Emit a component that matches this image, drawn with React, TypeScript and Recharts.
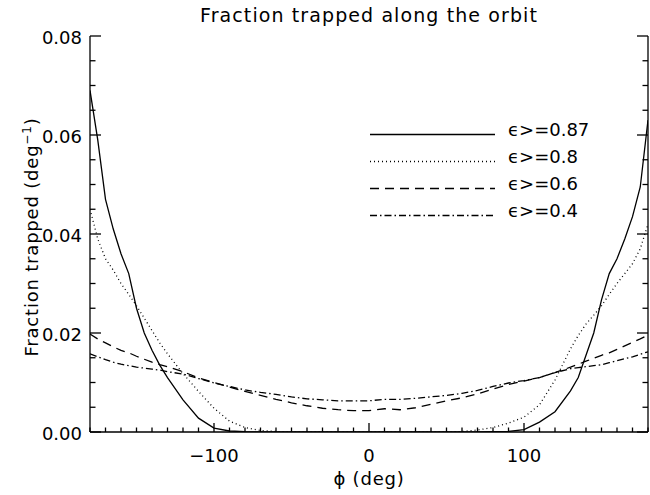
import React from 'react';
import { LineChart, Line, XAxis, YAxis, Legend } from 'recharts';

const phi = [-180, -175, -170, -165, -160, -155, -150, -145, -140, -135, -130,
  -120, -110, -100, -90, -80, -70, -60, -50, -40, -30, -20, -10, 0, 10, 20, 30, 40, 50, 60, 70, 80, 90, 100, 110, 120,
  130, 135, 140, 145, 150, 155, 160, 165, 170, 175, 180];

const eps087 = [0.069, 0.059, 0.047, 0.041, 0.036, 0.032, 0.025, 0.020, 0.0165, 0.0135, 0.011,
  0.0065, 0.0028, 0.0008, 0.0002, 0.00005, 0, 0, 0, 0, 0, 0, 0, 0, 0, 0, 0, 0, 0, 0, 0, 0.00005, 0.0001, 0.0005, 0.002, 0.0041,
  0.0083, 0.011, 0.0155, 0.020, 0.0267, 0.032, 0.035, 0.039, 0.0435, 0.0495, 0.063];

const eps08 = [0.045, 0.039, 0.035, 0.0327, 0.030, 0.0278, 0.0255, 0.023, 0.0205, 0.018, 0.0158,
  0.0118, 0.0082, 0.0048, 0.0022, 0.0009, 0.0003, 0.0001, 0, 0, 0, 0, 0, 0, 0, 0, 0, 0, 0, 0.0001, 0.0004, 0.0009, 0.0018, 0.003, 0.0055, 0.0105,
  0.0168, 0.0195, 0.0218, 0.0236, 0.0255, 0.0278, 0.030, 0.032, 0.034, 0.037, 0.042];

const eps06 = [0.0198, 0.0188, 0.018, 0.0172, 0.0165, 0.016, 0.0153, 0.0147, 0.0141, 0.0136, 0.0132,
  0.0122, 0.0109, 0.0100, 0.0091, 0.0082, 0.0074, 0.0066, 0.0059, 0.0053, 0.0048, 0.0045, 0.0043, 0.0043, 0.0047, 0.0045, 0.0049, 0.0056, 0.0063, 0.0069, 0.0077, 0.0087, 0.0096, 0.0103, 0.011, 0.012,
  0.0131, 0.0137, 0.0143, 0.0149, 0.0155, 0.016, 0.0167, 0.0174, 0.0181, 0.0188, 0.0196];

const eps04 = [0.0158, 0.0152, 0.0146, 0.0141, 0.0137, 0.0134, 0.0131, 0.0129, 0.0127, 0.0125, 0.0122,
  0.0117, 0.0108, 0.0099, 0.0092, 0.0085, 0.0080, 0.0076, 0.0071, 0.0067, 0.0065, 0.0063, 0.0063, 0.0063, 0.0066, 0.0066, 0.0068, 0.0071, 0.0074, 0.0078, 0.0084, 0.0092, 0.0099, 0.0104, 0.011, 0.012,
  0.0128, 0.013, 0.0132, 0.0134, 0.0136, 0.014, 0.0144, 0.0148, 0.0152, 0.0157, 0.0162];

const seriesNames = ['\u03F5>=0.87', '\u03F5>=0.8', '\u03F5>=0.6', '\u03F5>=0.4'];
const seriesKeys = ['s087', 's08', 's06', 's04'];
const dashes = ['', '1 3', '9 6', '7 3 1.5 3'];

const xMajorLabels = [-100, 0, 100];
const yMajorLabels = [0, 0.02, 0.04, 0.06, 0.08];

const xTicks = Array.from({ length: 37 }, (_, i) => -180 + i * 10);
const yTicks = Array.from({ length: 17 }, (_, i) => Math.round(i * 5) / 1000);

const rows = phi.map((p, i) => ({
  phi: p,
  s087: eps087[i],
  s08: eps08[i],
  s06: eps06[i],
  s04: eps04[i],
}));

const FONT = "'DejaVu Sans', sans-serif";
const SW = 1.3;

const isXMajor = (v: number) => xMajorLabels.includes(v);
const isYMajor = (v: number) => yMajorLabels.some((m) => Math.abs(m - v) < 1e-9);
const fmtX = (v: number) => (v < 0 ? '\u2212' + Math.abs(v) : String(v));

const BottomTick = (props: any) => {
  const { x, y, payload } = props;
  const v = payload.value;
  const major = isXMajor(v);
  return (
    <g>
      <line x1={x} x2={x} y1={y} y2={y - (major ? 9 : 4.5)} stroke="#000" strokeWidth={SW} />
      {major && (
        <text x={x} y={y + 23} textAnchor="middle" dominantBaseline="central" fontSize={18} fontFamily={FONT} fill="#000">
          {fmtX(v)}
        </text>
      )}
    </g>
  );
};

const TopTick = (props: any) => {
  const { x, y, payload } = props;
  const major = isXMajor(payload.value);
  return <line x1={x} x2={x} y1={y} y2={y + (major ? 9 : 4.5)} stroke="#000" strokeWidth={SW} />;
};

const LeftTick = (props: any) => {
  const { x, y, payload } = props;
  const v = payload.value;
  const major = isYMajor(v);
  return (
    <g>
      <line x1={x} x2={x + (major ? 11 : 5.5)} y1={y} y2={y} stroke="#000" strokeWidth={SW} />
      {major && (
        <text x={x - 8} y={y + 1} textAnchor="end" dominantBaseline="central" fontSize={18} fontFamily={FONT} fill="#000">
          {v.toFixed(2)}
        </text>
      )}
    </g>
  );
};

const RightTick = (props: any) => {
  const { x, y, payload } = props;
  const major = isYMajor(payload.value);
  return <line x1={x} x2={x - (major ? 11 : 5.5)} y1={y} y2={y} stroke="#000" strokeWidth={SW} />;
};

const LegendContent = (props: any) => {
  const payload = props.payload || [];
  return (
    <svg width={260} height={112} style={{ display: 'block' }}>
      {payload.map((entry: any, i: number) => {
        const idx = seriesKeys.indexOf(entry.dataKey);
        const k = idx >= 0 ? idx : i;
        const ty = 13 + 27 * k;
        return (
          <g key={k}>
            <line x1={0} x2={125} y1={ty + 5.5} y2={ty + 5.5} stroke="#000" strokeWidth={SW} strokeDasharray={dashes[k] || undefined} />
            <text x={138} y={ty} dominantBaseline="central" fontSize={18} fontFamily={FONT} fill="#000">
              {seriesNames[k]}
            </text>
          </g>
        );
      })}
    </svg>
  );
};

export default function App() {
  return (
    <div style={{ position: 'absolute', left: 0, top: 0, width: 650, height: 495, background: '#fff' }}>
      <div
        style={{
          position: 'absolute', left: 69, top: 0, width: 600, lineHeight: '30px', textAlign: 'center',
          fontFamily: FONT, fontSize: 19, letterSpacing: '1.1px', color: '#000',
        }}
      >
        Fraction trapped along the orbit
      </div>
      <LineChart width={650} height={495} data={rows} margin={{ top: 36, right: 0, bottom: 0, left: 0 }}>
        <XAxis
          xAxisId="b" dataKey="phi" type="number" domain={[-180, 180]} ticks={xTicks} interval={0}
          orientation="bottom" height={63} tickSize={0} tickMargin={0}
          axisLine={{ stroke: '#000', strokeWidth: SW }} tickLine={false} tick={<BottomTick />}
          allowDataOverflow
        />
        <XAxis
          xAxisId="t" dataKey="phi" type="number" domain={[-180, 180]} ticks={xTicks} interval={0}
          orientation="top" height={0} tickSize={0} tickMargin={0}
          axisLine={{ stroke: '#000', strokeWidth: SW }} tickLine={false} tick={<TopTick />}
          allowDataOverflow
        />
        <YAxis
          yAxisId="l" type="number" domain={[0, 0.08]} ticks={yTicks} interval={0}
          orientation="left" width={90} tickSize={0} tickMargin={0}
          axisLine={{ stroke: '#000', strokeWidth: SW }} tickLine={false} tick={<LeftTick />}
          allowDataOverflow
        />
        <YAxis
          yAxisId="r" type="number" domain={[0, 0.08]} ticks={yTicks} interval={0}
          orientation="right" width={2} tickSize={0} tickMargin={0}
          axisLine={{ stroke: '#000', strokeWidth: SW }} tickLine={false} tick={<RightTick />}
          allowDataOverflow
        />
        {seriesKeys.map((k, i) => (
          <Line
            key={k} xAxisId="b" yAxisId="l" dataKey={k} name={seriesNames[i]} type="linear"
            stroke="#000" strokeWidth={SW} strokeDasharray={dashes[i] || undefined}
            dot={false} activeDot={false} isAnimationActive={false}
          />
        ))}
        <Legend
          layout="horizontal" verticalAlign="middle" align="center"
          content={<LegendContent />}
          wrapperStyle={{ position: 'absolute', left: 370, top: 116, width: 260, height: 112 }}
        />
      </LineChart>
      <div
        style={{
          position: 'absolute', left: 32 - 160, top: 237 - 13, width: 320, height: 26, lineHeight: '26px',
          textAlign: 'center', transform: 'rotate(-90deg)', fontFamily: FONT, fontSize: 18,
          letterSpacing: '0.8px', color: '#000', whiteSpace: 'nowrap',
        }}
      >
        Fraction trapped (deg<sup style={{ fontSize: 12, lineHeight: 0 }}>{'\u22121'}</sup>)
      </div>
      <div
        style={{
          position: 'absolute', left: 369 - 100, top: 479 - 13, width: 200, lineHeight: '26px',
          textAlign: 'center', fontFamily: FONT, fontSize: 18, letterSpacing: '0.8px', color: '#000',
        }}
      >
        {'\u03D5 (deg)'}
      </div>
    </div>
  );
}
